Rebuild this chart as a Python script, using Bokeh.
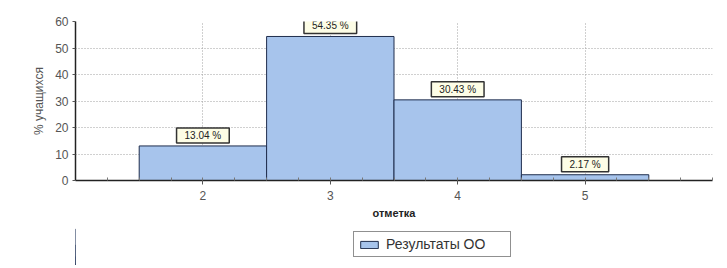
from bokeh.plotting import figure
from bokeh.layouts import column
from bokeh.models import ColumnDataSource, Range1d, Label, Legend, LegendItem, FixedTicker
from bokeh.embed import file_html
from bokeh.resources import INLINE

grades = [2, 3, 4, 5]
percents = [13.04, 54.35, 30.43, 2.17]
labels = ["13.04 %", "54.35 %", "30.43 %", "2.17 %"]
y_ticks = [0, 10, 20, 30, 40, 50, 60]
series_name = "Результаты ОО"

BAR_FILL = "#a7c4ec"
BAR_LINE = "#1f2d4d"

src = ColumnDataSource(dict(x=grades, top=percents, label=labels))

p = figure(frame_width=637, frame_height=159, output_backend="svg", toolbar_location=None,
           x_range=Range1d(1, 6), y_range=Range1d(0, 60),
           min_border_left=75, min_border_right=7, min_border_top=21, min_border_bottom=45)
p.outline_line_color = None

bars = p.vbar(x="x", top="top", width=1.0, bottom=0, source=src,
              fill_color=BAR_FILL, line_color=BAR_LINE, line_width=1)

p.xaxis.ticker = FixedTicker(ticks=grades, minor_ticks=[1 + 0.25 * i for i in range(21)])
p.yaxis.ticker = FixedTicker(ticks=y_ticks)

for ax in (p.xaxis[0], p.yaxis[0]):
    ax.axis_line_color = "#222222"
    ax.axis_line_width = 1.5
    ax.major_tick_line_color = "#555555"
    ax.minor_tick_line_color = "#777777"
    ax.major_label_text_font = "Liberation Sans"
    ax.major_label_text_font_size = "12px"
    ax.major_label_text_color = "#555555"
    ax.axis_label_text_font = "Liberation Sans"
    ax.axis_label_text_color = "#222222"

p.xaxis.major_tick_out = 4
p.xaxis.major_tick_in = 0
p.xaxis.minor_tick_in = 3
p.xaxis.minor_tick_out = 0
p.xaxis.major_label_standoff = 6
p.xaxis.axis_label = "отметка"
p.xaxis.axis_label_text_font_style = "bold"
p.xaxis.axis_label_text_font_size = "11px"
p.xaxis.axis_label_standoff = 4

p.yaxis.major_tick_out = 3
p.yaxis.major_tick_in = 0
p.yaxis.minor_tick_line_color = None
p.yaxis.major_label_standoff = 4
p.yaxis.axis_label = "% учащихся"
p.yaxis.axis_label_text_font_style = "normal"
p.yaxis.axis_label_text_font_size = "12px"
p.yaxis.axis_label_text_color = "#555555"
p.yaxis.axis_label_standoff = 6

p.xgrid.grid_line_color = "#a0a0a0"
p.xgrid.grid_line_dash = "1 2"
p.ygrid.grid_line_color = "#a0a0a0"
p.ygrid.grid_line_dash = "1 2"

for gx, gy, gt in zip(grades, percents, labels):
    p.add_layout(Label(x=gx, y=gy, text=gt,
                       text_align="center", text_baseline="bottom", y_offset=3,
                       text_font="Liberation Sans", text_font_size="10px", text_color="#222222",
                       background_fill_color="#fdfde6", border_line_color="#333333",
                       border_line_width=1.5, padding=(8, 2)))

# legend strip below the chart
lg = figure(frame_width=719, frame_height=40, output_backend="svg", toolbar_location=None,
            x_range=Range1d(10, 11), y_range=Range1d(0, 60),
            x_axis_type=None, y_axis_type=None,
            min_border_left=0, min_border_right=0, min_border_top=0, min_border_bottom=0)
lg.outline_line_color = None
lg.xgrid.visible = False
lg.ygrid.visible = False
lg_bars = lg.vbar(x="x", top="top", width=1.0, bottom=0, source=src,
                  fill_color=BAR_FILL, line_color=BAR_LINE, line_width=1)

legend = Legend(items=[LegendItem(label=series_name, renderers=[lg_bars])],
                location=(353, 8), orientation="horizontal",
                label_text_font="Liberation Sans", label_text_font_size="14px",
                label_text_color="#333333", border_line_color="#222222",
                border_line_width=1.5, background_fill_color="#ffffff",
                glyph_width=22, glyph_height=9, padding=4, spacing=0,
                label_standoff=6, label_width=120, label_height=12, margin=0)
lg.add_layout(legend, "center")

layout = column(p, lg, spacing=0)
open("out.html", "w").write(file_html(layout, INLINE))
